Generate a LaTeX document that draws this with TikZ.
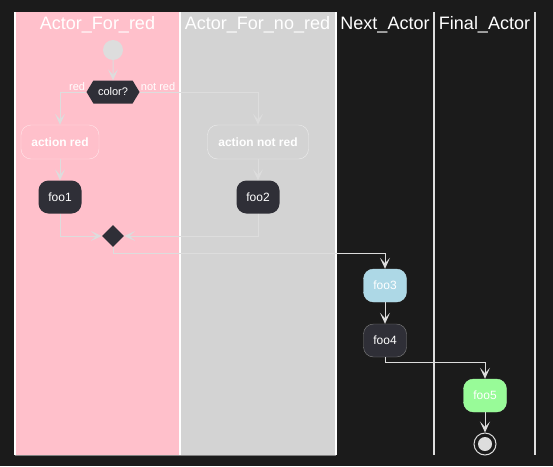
\documentclass[tikz,border=0pt]{standalone}
\usepackage{fontspec}
\setmainfont{Liberation Sans}
\usetikzlibrary{arrows.meta,shapes.geometric,shapes.symbols}
\definecolor{bg}{HTML}{1B1B1B}
\definecolor{lanered}{HTML}{FFC0CB}
\definecolor{lanegray}{HTML}{D3D3D3}
\definecolor{nodedark}{HTML}{2F2F37}
\definecolor{linegray}{HTML}{DDDDDD}
\definecolor{bluefoo}{HTML}{ADD8E6}
\definecolor{greenfoo}{HTML}{98FB98}
\tikzset{
  lanetitle/.style={text=white, font=\fontsize{18}{20}\selectfont},
  act/.style={rounded corners=10pt, minimum width=43pt, minimum height=33pt, inner sep=0pt, text=white, font=\fontsize{12}{14}\selectfont},
  flow/.style={draw=linegray, line width=1pt, -{Stealth[length=11pt,width=10pt,inset=5.5pt]}},
  guard/.style={text=white, font=\fontsize{11}{12}\selectfont, inner sep=1pt},
}
\begin{document}
\begin{tikzpicture}[x=1pt,y=-1pt]
        \fill[bg] (0,0) rectangle (553,466);
        \fill[lanered] (15,12) rectangle (180,455);
        \fill[lanegray] (180,12) rectangle (335,455);
        \draw[gray, line width=1pt] (15,455) to (336,455);
        \draw[white, line width=1.5pt] (15,12) to (15,455);
        \draw[white, line width=1.5pt] (180,12) to (180,455);
        \draw[white, line width=1.5pt] (336,12) to (336,455);
        \draw[linegray, line width=1.5pt] (434,12) to (434,455);
        \draw[linegray, line width=1.5pt] (535,12) to (535,455);

        \node[lanetitle] (t1) at (97.5,25) {Actor\_For\_red};
        \node[lanetitle] (t2) at (257.5,25) {Actor\_For\_no\_red};
        \node[lanetitle] (t3) at (385,25) {Next\_Actor};
        \node[lanetitle] (t4) at (484.5,25) {Final\_Actor};

        \node[circle, fill=linegray, minimum size=20pt, inner sep=0pt] (start) at (113,50) {};
        \node[signal, signal to=west and east, signal pointer angle=118, fill=nodedark, minimum width=53pt, minimum height=23pt, inner sep=0pt, text=white, font=\fontsize{11}{12}\selectfont] (color) at (113,92) {color?};
        \node[guard, anchor=south east] (lred) at (color.west) {red};
        \node[guard, anchor=south west] (lnotred) at (color.east) {not red};

        \node[act, draw=white!60!lanered, fill=lanered, minimum width=78pt, minimum height=34pt, font=\bfseries\fontsize{12}{14}\selectfont] (actred) at (60,142) {action red};
        \node[act, draw=white!60!lanegray, fill=lanegray, minimum width=101pt, minimum height=34pt, font=\bfseries\fontsize{12}{14}\selectfont] (actnotred) at (258,142) {action not red};
        \node[act, fill=nodedark] (foo1) at (60,197) {foo1};
        \node[act, fill=nodedark] (foo2) at (258,197) {foo2};
        \node[diamond, fill=nodedark, minimum size=22pt, inner sep=0pt] (merge) at (113,236) {};
        \node[act, fill=bluefoo, draw=bluefoo!85!white] (foo3) at (385,285.5) {foo3};
        \node[act, fill=nodedark, draw=gray] (foo4) at (385,340.5) {foo4};
        \node[act, fill=greenfoo, draw=greenfoo!85!white] (foo5) at (485,395.5) {foo5};
        \node[circle, draw=linegray, line width=1pt, minimum size=22pt, inner sep=0pt] (stop) at (485,444) {};
        \node[circle, fill=linegray, minimum size=14pt, inner sep=0pt] (stopdot) at (stop) {};

        \draw[flow] (start) to (color);
        \draw[flow] (color.west) -| (actred.north);
        \draw[flow] (color.east) -| (actnotred.north);
        \draw[flow] (actred) to (foo1);
        \draw[flow] (actnotred) to (foo2);
        \draw[flow] (foo1.south) |- (merge.west);
        \draw[flow] (foo2.south) |- (merge.east);
        \draw[flow] (merge.south) -- ++(0,6) -| (foo3.north);
        \draw[flow] (foo3) to (foo4);
        \draw[flow] (foo4.south) -- ++(0,5) -| (foo5.north);
        \draw[flow] (foo5) to (stop);
    \end{tikzpicture}
\end{document}
